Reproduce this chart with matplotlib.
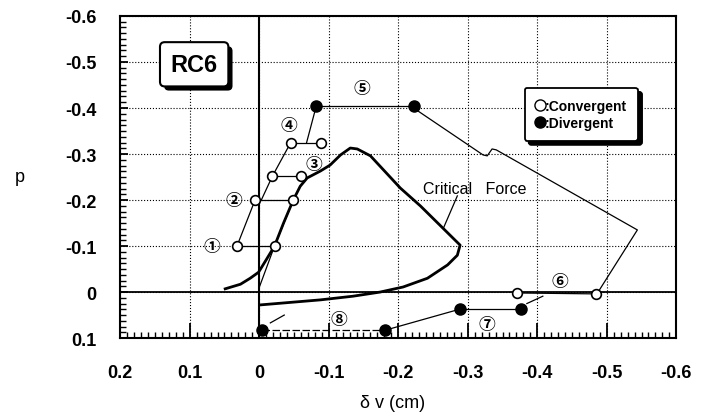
import matplotlib
matplotlib.use("Agg")
import matplotlib.pyplot as plt
import matplotlib.patheffects as pe
from matplotlib.lines import Line2D
from matplotlib.ticker import MultipleLocator, FuncFormatter

plt.rcParams["font.family"] = ["Liberation Sans", "DejaVu Sans"]

# Convergent (open) and divergent (filled) test points
conv_x = [0.032, -0.022, 0.006, -0.049, -0.019, -0.060, -0.045, -0.089, -0.371, -0.485]
conv_y = [-0.100, -0.100, -0.200, -0.200, -0.252, -0.252, -0.324, -0.324, 0.002, 0.004]
div_x = [-0.082, -0.222, -0.289, -0.377, -0.004, -0.181]
div_y = [-0.404, -0.404, 0.037, 0.037, 0.083, 0.083]

# Loading paths between the points
paths = [
    ([0.032, -0.022], [-0.100, -0.100]),
    ([0.032, 0.006], [-0.100, -0.200]),
    ([0.006, -0.049], [-0.200, -0.200]),
    ([-0.003, -0.019], [-0.200, -0.252]),
    ([-0.019, -0.060], [-0.252, -0.252]),
    ([-0.019, -0.045], [-0.252, -0.324]),
    ([-0.045, -0.089], [-0.324, -0.324]),
    ([-0.068, -0.082], [-0.324, -0.404]),
    ([-0.082, -0.222], [-0.404, -0.404]),
    ([-0.222, -0.322, -0.328, -0.335, -0.341, -0.544, -0.485],
     [-0.400, -0.298, -0.296, -0.311, -0.309, -0.135, 0.006]),
    ([-0.371, -0.485], [0.002, 0.004]),
    ([-0.385, -0.408], [0.025, 0.009]),
    ([-0.289, -0.377], [0.037, 0.037]),
    ([-0.289, -0.181], [0.037, 0.083]),
    ([-0.016, -0.036], [0.067, 0.050]),
    ([0.000, -0.022, -0.049], [-0.010, -0.100, -0.200]),
    ([-0.285, -0.265], [-0.209, -0.139]),
]
dashed_x = [-0.004, -0.181]
dashed_y = [0.083, 0.083]

# Critical force curve
crit_x = [0.049, 0.027, 0.013, 0.001, -0.010, -0.022, -0.035, -0.049, -0.059, -0.069,
          -0.088, -0.102, -0.117, -0.131, -0.141, -0.160, -0.203, -0.232, -0.289, -0.285,
          -0.271, -0.242, -0.207, -0.174, -0.135, -0.088, -0.001]
crit_y = [-0.007, -0.017, -0.030, -0.043, -0.070, -0.100, -0.150, -0.200, -0.230, -0.248,
          -0.263, -0.276, -0.298, -0.313, -0.311, -0.296, -0.226, -0.187, -0.102, -0.080,
          -0.059, -0.030, -0.011, 0.000, 0.009, 0.017, 0.028]

step_labels = ["①", "②", "③", "④", "⑤", "⑥", "⑦", "⑧"]
step_x = [0.068, 0.036, -0.078, -0.043, -0.148, -0.433, -0.328, -0.114]
step_y = [-0.100, -0.200, -0.278, -0.363, -0.443, -0.024, 0.070, 0.059]

fig = plt.figure(figsize=(7.03, 4.14), dpi=100)
ax = fig.add_axes([0.171, 0.181, 0.791, 0.778])

ax.set_xlim(0.2, -0.6)
ax.set_ylim(0.1, -0.6)
ax.xaxis.set_major_locator(MultipleLocator(0.1))
ax.xaxis.set_minor_locator(MultipleLocator(0.01))
ax.yaxis.set_major_locator(MultipleLocator(0.1))
ax.yaxis.set_minor_locator(MultipleLocator(0.0125))
fmt = FuncFormatter(lambda v, p: "0" if abs(v) < 1e-9 else f"{v:.1f}")
ax.xaxis.set_major_formatter(fmt)
ax.yaxis.set_major_formatter(fmt)
ax.tick_params(axis="x", which="major", direction="in", length=11, width=1.3, pad=19,
               labelsize=13)
ax.tick_params(axis="x", which="minor", direction="in", length=4, width=1)
ax.tick_params(axis="y", which="major", direction="in", length=6, width=1.3, pad=17,
               labelsize=13)
ax.tick_params(axis="y", which="minor", direction="in", length=4, width=1)
for lab in ax.get_xticklabels() + ax.get_yticklabels():
    lab.set_fontweight("bold")
for s in ax.spines.values():
    s.set_linewidth(1.5)

ax.grid(True, which="major", ls=":", color="k", lw=0.8)
ax.axhline(0, color="k", lw=1.3, zorder=2)
ax.axvline(0, color="k", lw=1.5, zorder=2)

ax.plot(crit_x, crit_y, color="k", lw=2, zorder=3)
for px, py in paths:
    ax.plot(px, py, color="k", lw=0.9, zorder=3)
ax.plot(dashed_x, dashed_y, color="k", lw=0.9, ls=(0, (6, 2)), zorder=3)

ax.plot(conv_x, conv_y, "o", ms=7, mfc="white", mec="k", mew=1.2, ls="none", zorder=4)
ax.plot(div_x, div_y, "o", ms=8, mfc="k", mec="k", ls="none", zorder=4)

for s, x, y in zip(step_labels, step_x, step_y):
    ax.text(x, y, s, ha="center", va="center", fontsize=12, fontweight="bold",
            family=["Noto Sans CJK JP", "DejaVu Sans"], zorder=5)

ax.text(-0.31, -0.225, "Critical   Force", ha="center", va="center", fontsize=11.5)

t = ax.text(0.133, 0.85, "RC6", transform=ax.transAxes, ha="center", va="center",
            fontsize=17, fontweight="bold", zorder=6,
            bbox=dict(boxstyle="round,pad=0.45,rounding_size=0.2", fc="white", ec="k", lw=1.5))
t.get_bbox_patch().set_path_effects(
    [pe.withSimplePatchShadow(offset=(3, -3), shadow_rgbFace="k", alpha=1)])

handles = [Line2D([], [], marker="o", ms=8, mfc="white", mec="k", ls="none"),
           Line2D([], [], marker="o", ms=8, mfc="k", mec="k", ls="none")]
leg = ax.legend(handles, [":Convergent", ":Divergent"], loc="center",
                bbox_to_anchor=(0.829, 0.695), handlelength=0.6, handletextpad=0.05,
                labelspacing=0.2, borderpad=0.8, fancybox=True, framealpha=1,
                edgecolor="k", shadow={"color": "k", "alpha": 1, "ox": 3, "oy": -3},
                prop={"weight": "bold", "size": 10})
leg.get_frame().set_linewidth(1.3)

fig.text(20 / 703, 1 - 178 / 414, "p", ha="center", va="center", fontsize=13)
fig.text(393 / 703, 1 - 404 / 414, "δ v (cm)", ha="center", va="center", fontsize=13)

fig.savefig("out.png", dpi=100)
